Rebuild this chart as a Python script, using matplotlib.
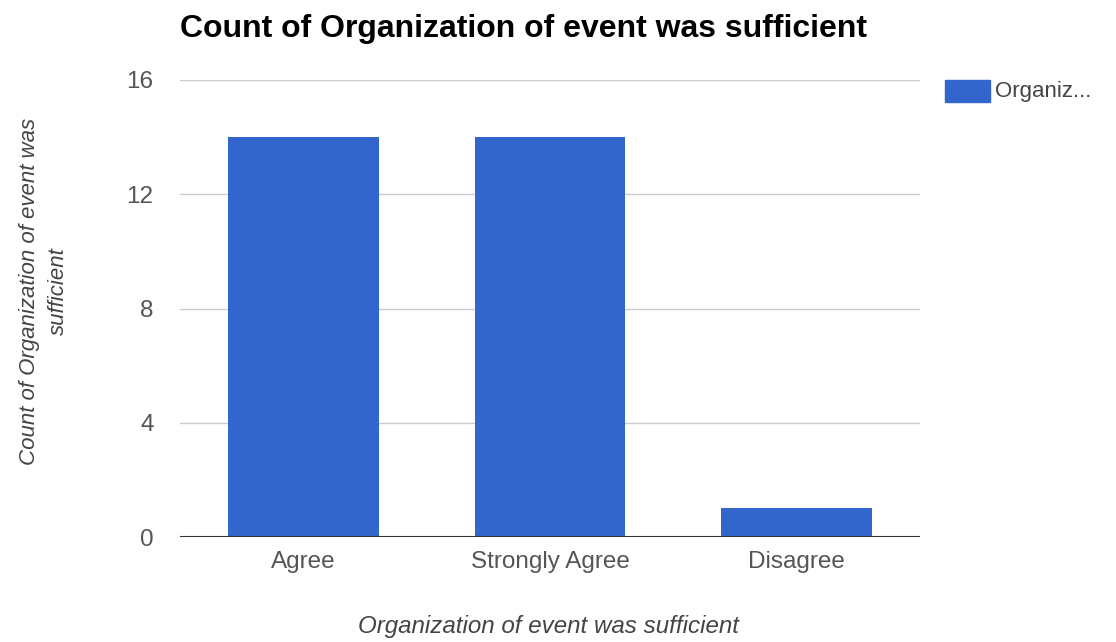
import matplotlib
matplotlib.use("Agg")
import matplotlib.pyplot as plt
from matplotlib.patches import Rectangle

plt.rcParams['font.family'] = ['Liberation Sans', 'DejaVu Sans']

categories = ["Agree", "Strongly Agree", "Disagree"]
counts = [14, 14, 1]
y_ticks = [0, 4, 8, 12, 16]
title = "Count of Organization of event was sufficient"
x_label = "Organization of event was sufficient"
y_label = "Count of Organization of event was\nsufficient"
legend_label = "Organiz..."

bar_color = "#3366CC"

fig = plt.figure(figsize=(11.16, 6.42), dpi=100)
ax = fig.add_axes([180 / 1116, 1 - 537 / 642, 740 / 1116, 457 / 642])

x = list(range(len(categories)))
ax.bar(x, counts, width=0.61, color=bar_color, zorder=3)

ax.set_xlim(-0.5, len(categories) - 0.5)
ax.set_ylim(0, 16)
ax.set_yticks(y_ticks)
ax.set_yticklabels([str(t) for t in y_ticks])
ax.set_xticks(x)
ax.set_xticklabels(categories)

ax.grid(axis='y', color='#cccccc', linewidth=1, zorder=0)
ax.axhline(0, color='#333333', linewidth=1.5, zorder=4)
for s in ax.spines.values():
    s.set_visible(False)
ax.tick_params(axis='both', length=0, labelsize=17.5, colors='#555555')
ax.tick_params(axis='y', pad=19)
ax.tick_params(axis='x', pad=10)

fig.text(180 / 1116, 1 - 29 / 642, title, fontsize=23, fontweight='bold',
         color='#000000', ha='left', va='center')
fig.text(549 / 1116, 1 - 627 / 642, x_label, fontsize=17.4, style='italic',
         color='#444444', ha='center', va='center')
fig.text(44 / 1116, 1 - 291 / 642, y_label, fontsize=16, style='italic',
         color='#444444', ha='center', va='center', rotation=90,
         multialignment='center', linespacing=1.5)

# legend entry
fig.patches.append(Rectangle((945 / 1116, 1 - 102 / 642), 45 / 1116, 22 / 642,
                             transform=fig.transFigure, color=bar_color))
fig.text(995 / 1116, 1 - 91 / 642, legend_label, fontsize=16, color='#444444',
         ha='left', va='center')

fig.savefig("out.png", dpi=100, facecolor='white')
